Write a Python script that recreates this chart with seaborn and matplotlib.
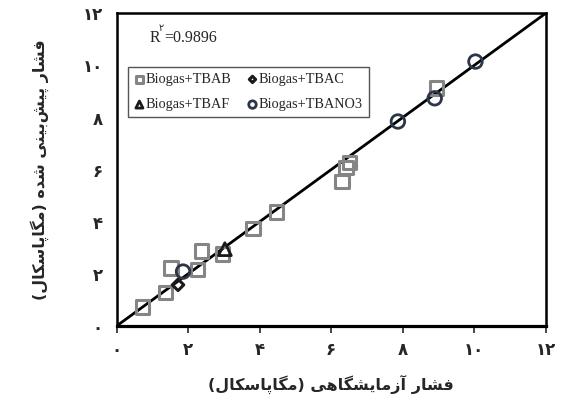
import pandas as pd
import matplotlib
matplotlib.use("Agg")
import matplotlib.pyplot as plt
import seaborn as sns

# داده ها (خوانده شده از نمودار)
tbab_exp = [0.72, 1.37, 1.53, 2.27, 2.38, 2.97, 3.82, 4.48, 6.31, 6.42, 6.52, 8.95]
tbab_pred = [0.73, 1.28, 2.22, 2.17, 2.88, 2.76, 3.74, 4.38, 5.54, 6.09, 6.28, 9.13]
tbac_exp = [1.72]
tbac_pred = [1.58]
tbaf_exp = [3.03]
tbaf_pred = [2.95]
tbano3_exp = [1.86, 7.87, 8.90, 10.04]
tbano3_pred = [2.09, 7.85, 8.74, 10.15]

series_names = ["Biogas+TBAB", "Biogas+TBAC", "Biogas+TBAF", "Biogas+TBANO3"]
tick_values = [0, 2, 4, 6, 8, 10, 12]
tick_labels = ["۰", "۲", "۴", "۶", "۸", "۱۰", "۱۲"]
fit_line = [0, 12]
r2_value = "0.9896"

xlabel_fa = "فشار آزمایشگاهی (مگاپاسکال)"
ylabel_fa = "فشار پیش\u200cبینی شده (مگاپاسکال)"

# شکل دهی حروف فارسی (matplotlib خودش این کار را نمی کند)
FORMS = {
    'ا': ('\uFE8D', '\uFE8E', None, None),
    'آ': ('\uFE81', '\uFE82', None, None),
    'ب': ('\uFE8F', '\uFE90', '\uFE91', '\uFE92'),
    'پ': ('\uFB56', '\uFB57', '\uFB58', '\uFB59'),
    'د': ('\uFEA9', '\uFEAA', None, None),
    'ر': ('\uFEAD', '\uFEAE', None, None),
    'ز': ('\uFEAF', '\uFEB0', None, None),
    'س': ('\uFEB1', '\uFEB2', '\uFEB3', '\uFEB4'),
    'ش': ('\uFEB5', '\uFEB6', '\uFEB7', '\uFEB8'),
    'ف': ('\uFED1', '\uFED2', '\uFED3', '\uFED4'),
    'ک': ('\uFB8E', '\uFB8F', '\uFB90', '\uFB91'),
    'گ': ('\uFB92', '\uFB93', '\uFB94', '\uFB95'),
    'ل': ('\uFEDD', '\uFEDE', '\uFEDF', '\uFEE0'),
    'م': ('\uFEE1', '\uFEE2', '\uFEE3', '\uFEE4'),
    'ن': ('\uFEE5', '\uFEE6', '\uFEE7', '\uFEE8'),
    'ه': ('\uFEE9', '\uFEEA', '\uFEEB', '\uFEEC'),
    'ی': ('\uFBFC', '\uFBFD', '\uFBFE', '\uFBFF'),
}


def shape(text):
    out = []
    for i, ch in enumerate(text):
        if ch not in FORMS:
            if ch != '\u200c':
                out.append(ch)
            continue
        prev = text[i - 1] if i > 0 else ''
        nxt = text[i + 1] if i + 1 < len(text) else ''
        jp = prev in FORMS and FORMS[prev][2] is not None
        jn = FORMS[ch][2] is not None and nxt in FORMS
        iso, fin, ini, med = FORMS[ch]
        if jp and jn:
            out.append(med)
        elif jp:
            out.append(fin)
        elif jn:
            out.append(ini)
        else:
            out.append(iso)
    mirror = {'(': ')', ')': '('}
    return ''.join(mirror.get(c, c) for c in reversed(out))


df = pd.concat([
    pd.DataFrame({"exp": tbab_exp, "pred": tbab_pred, "system": series_names[0]}),
    pd.DataFrame({"exp": tbac_exp, "pred": tbac_pred, "system": series_names[1]}),
    pd.DataFrame({"exp": tbaf_exp, "pred": tbaf_pred, "system": series_names[2]}),
    pd.DataFrame({"exp": tbano3_exp, "pred": tbano3_pred, "system": series_names[3]}),
])

sns.set_style("white")
plt.rcParams['font.family'] = ['DejaVu Sans']

fig = plt.figure(figsize=(5.63, 4.05), dpi=100)
ax = fig.add_axes([0.207, 0.195, 0.762, 0.772])

ax.plot(fit_line, fit_line, color="black", lw=2, zorder=1)

styles = {
    "Biogas+TBAB": dict(marker="s", s=95, edgecolor="#858585", linewidth=2.2),
    "Biogas+TBAC": dict(marker="D", s=34, edgecolor="#1a1a1a", linewidth=2.2),
    "Biogas+TBAF": dict(marker="^", s=85, edgecolor="#1a1a1a", linewidth=2.0),
    "Biogas+TBANO3": dict(marker="o", s=95, edgecolor="#2b3648", linewidth=2.0),
}
for name in series_names:
    sub = df[df["system"] == name]
    sns.scatterplot(data=sub, x="exp", y="pred", ax=ax, facecolor="none",
                    label=name, zorder=3, **styles[name])

ax.set_xlim(0, 12)
ax.set_ylim(0, 12)
ax.set_xticks(tick_values)
ax.set_yticks(tick_values)
ax.set_xticklabels(tick_labels, fontsize=12, fontweight="bold")
ax.set_yticklabels(tick_labels, fontsize=12, fontweight="bold")
ax.tick_params(axis="x", direction="out", length=5, width=1.2, pad=6, bottom=True)
ax.tick_params(axis="y", length=0, pad=10)
for sp in ax.spines.values():
    sp.set_visible(True)
    sp.set_color("black")
    sp.set_linewidth(1.8)
ax.spines["bottom"].set_linewidth(2.3)

ax.set_xlabel(shape(xlabel_fa), fontsize=11.5, fontweight="bold", labelpad=11)
ax.set_ylabel(shape(ylabel_fa), fontsize=11.5, fontweight="bold", labelpad=24)

# ترتیب راهنما: ردیف اول TBAB و TBAC، ردیف دوم TBAF و TBANO3
handles, labels = ax.get_legend_handles_labels()
order = [0, 2, 1, 3]
leg = ax.legend([handles[i] for i in order], [labels[i] for i in order],
                ncol=2, loc="upper left", bbox_to_anchor=(0.01, 0.85),
                prop={"family": "Liberation Serif", "size": 10.3},
                markerscale=0.55, handletextpad=0.05, handlelength=0.8,
                columnspacing=1.05, borderpad=0.4, labelspacing=0.85,
                fancybox=False, framealpha=1, edgecolor="#555555")
leg.get_frame().set_linewidth(1.0)

ax.text(0.077, 0.91, "R", transform=ax.transAxes, fontsize=11.5,
        family="Liberation Serif", va="baseline")
ax.text(0.098, 0.945, "۲", transform=ax.transAxes, fontsize=7,
        family="DejaVu Sans", va="baseline")
ax.text(0.11, 0.91, "=" + r2_value, transform=ax.transAxes, fontsize=11.5,
        family="Liberation Serif", va="baseline")

fig.savefig("out.png", dpi=100)
